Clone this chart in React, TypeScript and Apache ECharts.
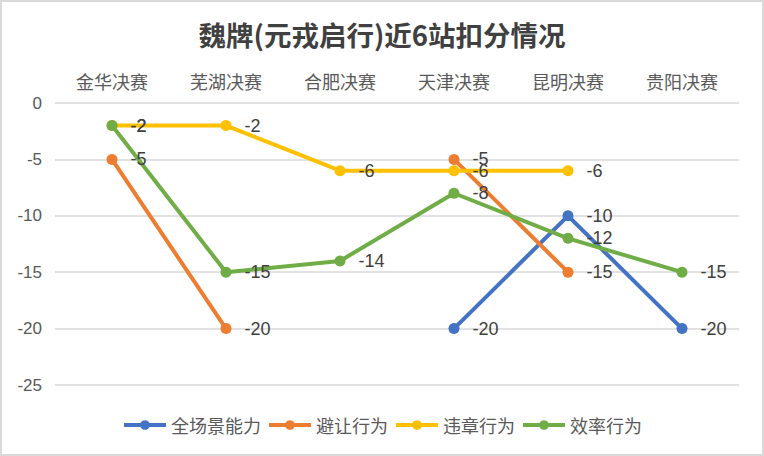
import React, { useEffect, useRef } from "react";
import * as echarts from "echarts";

const title = "魏牌(元戎启行)近6站扣分情况";
const categories = ["金华决赛", "芜湖决赛", "合肥决赛", "天津决赛", "昆明决赛", "贵阳决赛"];
const seriesNames = ["全场景能力", "避让行为", "违章行为", "效率行为"];
const allScene = [null, null, null, -20, -10, -20];
const avoidance = [-5, -20, null, -5, -15, null];
const violation = [-2, -2, -6, -6, -6, null];
const efficiency = [-2, -15, -14, -8, -12, -15];
const colors = ["#4472C4", "#ED7D31", "#FFC000", "#70AD47"];
const yMin = -25;
const yMax = 0;
const yStep = 5;

const FONT = "'Noto Sans CJK SC', 'Noto Sans', sans-serif";
const NUMFONT = "'Liberation Sans', Arial, sans-serif";

export default function App() {
  const ref = useRef<HTMLDivElement>(null);
  useEffect(() => {
    if (!ref.current) return;
    const chart = echarts.init(ref.current, undefined, { renderer: "svg" });
    const data = [allScene, avoidance, violation, efficiency];
    chart.setOption({
      animation: false,
      backgroundColor: "#ffffff",
      color: colors,
      title: {
        text: title,
        left: "center",
        top: 15,
        textStyle: { fontFamily: FONT, fontSize: 27.5, fontWeight: "bold", color: "#404040" },
      },
      graphic: [
        {
          type: "rect",
          shape: { x: 1, y: 1, width: 762, height: 454 },
          style: { fill: "none", stroke: "#d9d9d9", lineWidth: 2 },
          silent: true,
        },
      ],
      legend: {
        bottom: 17,
        left: "center",
        itemWidth: 42,
        itemHeight: 12,
        itemGap: 6,
        lineStyle: { width: 4 },
        textStyle: { fontFamily: FONT, fontSize: 18, color: "#595959" },
        data: seriesNames,
      },
      grid: { left: 55, right: 25, top: 103, bottom: 71, containLabel: false },
      xAxis: {
        type: "category",
        position: "top",
        data: categories,
        boundaryGap: true,
        axisLine: { show: false },
        axisTick: { show: false },
        axisLabel: { fontFamily: FONT, fontSize: 18, color: "#595959", margin: 13 },
      },
      yAxis: {
        type: "value",
        min: yMin,
        max: yMax,
        interval: yStep,
        axisLine: { show: false },
        axisTick: { show: false },
        axisLabel: { fontFamily: NUMFONT, fontSize: 17, color: "#595959", margin: 13 },
        splitLine: { lineStyle: { color: "#d9d9d9", width: 1.5 } },
      },
      series: seriesNames.map((name, i) => ({
        name,
        type: "line",
        data: data[i],
        connectNulls: false,
        symbol: "circle",
        symbolSize: 11,
        lineStyle: { width: 4, color: colors[i] },
        itemStyle: { color: colors[i] },
        label: {
          show: true,
          position: "right",
          distance: 13,
          fontFamily: NUMFONT,
          fontSize: 18,
          color: "#404040",
        },
      })),
    });
    return () => chart.dispose();
  }, []);
  return (
    <div
      ref={ref}
      style={{ position: "absolute", left: 0, top: 0, width: 764, height: 456 }}
    />
  );
}
